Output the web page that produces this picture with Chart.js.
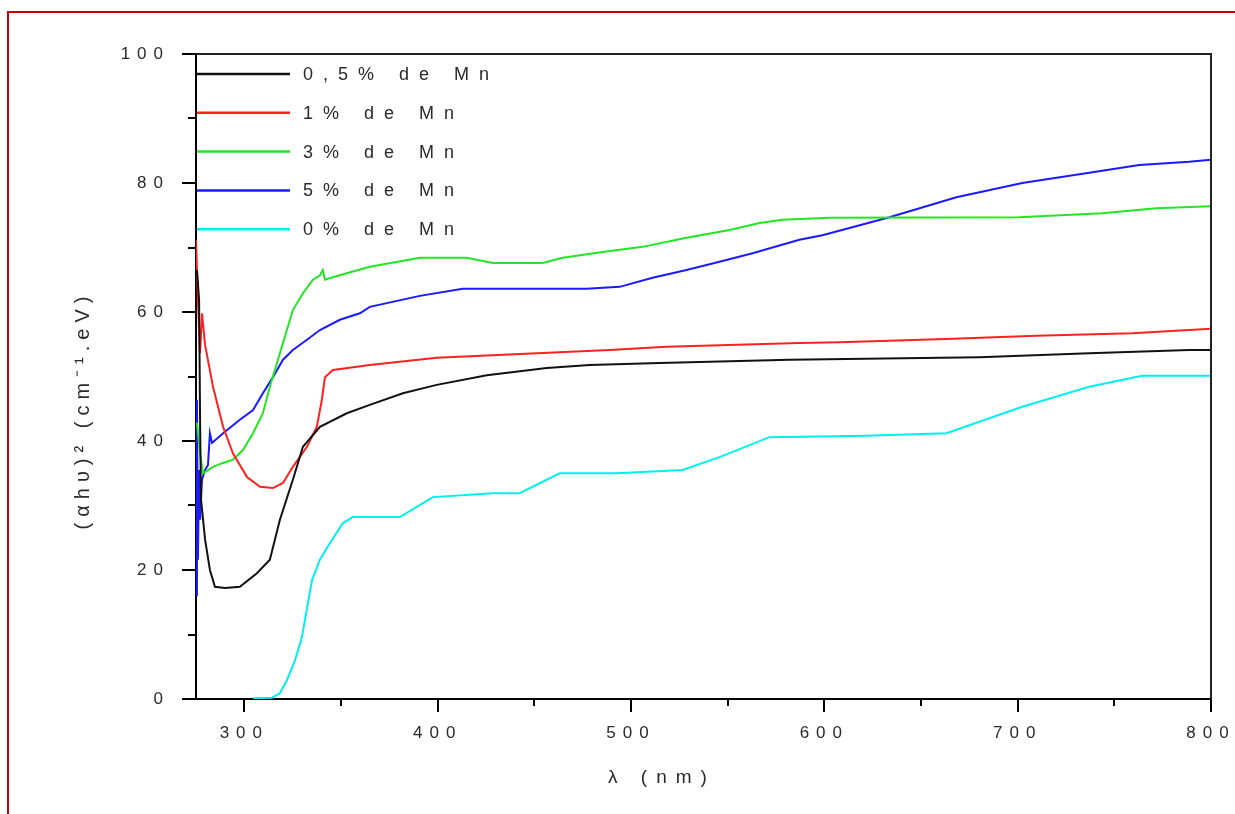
<!DOCTYPE html>
<html>
<head>
<meta charset="utf-8">
<script src="https://cdn.jsdelivr.net/npm/chart.js@4.4.1/dist/chart.umd.min.js"></script>
<style>
  html, body { margin: 0; padding: 0; background: #fff; }
  #wrap { width: 1235px; height: 814px; }
</style>
</head>
<body>
<div id="wrap"><canvas id="absChart" width="1235" height="814"></canvas></div>
<script>
// [wavelength nm, (alpha h nu)^2] pairs
const mn05 = [[275.5,66.5],[276.6,61.9],[277.1,43.3],[277.6,30.9],[279.7,24.7],[282.2,20.0],[284.8,17.4],[290,17.2],[297.7,17.4],[306.5,19.5],[313.2,21.6],[318.4,27.8],[325.1,34.0],[330.3,39.1],[339.1,42.2],[353,44.3],[364.9,45.6],[382,47.4],[399.5,48.7],[425.4,50.2],[456.4,51.3],[478.6,51.8],[514.8,52.1],[582,52.6],[680.2,53.0],[737,53.6],[788.7,54.1],[800,54.1]];
const mn1 = [[275,71.2],[276,61.9],[277.1,53.6],[278.1,59.8],[279.7,54.9],[283.8,48.4],[289,42.2],[294.1,38.1],[301.4,34.4],[308.1,32.9],[314.8,32.7],[320,33.5],[325.1,36.0],[332.4,39.1],[337.5,42.2],[340.1,46.4],[341.7,49.9],[345.8,51.0],[358.2,51.5],[364.9,51.8],[399.5,52.9],[451.2,53.6],[489,54.1],[518.4,54.6],[587.1,55.2],[607.8,55.3],[663.1,55.8],[709.6,56.3],[759.2,56.7],[800,57.4]];
const mn3 = [[275.5,42.8],[277.1,38.1],[278.6,35.0],[283.8,36.0],[289,36.6],[294.1,37.1],[299.3,38.6],[304.5,41.2],[309.6,44.3],[313.2,48.4],[318.4,53.6],[322,57.2],[325.1,60.3],[330.3,62.9],[335.5,65.0],[339.1,65.7],[340.6,66.5],[341.7,65.0],[345.8,65.4],[353,66.0],[364.9,67.0],[390.8,68.4],[415,68.4],[428.5,67.6],[454.3,67.6],[464.7,68.4],[485.3,69.3],[506,70.1],[528.7,71.5],[551,72.7],[566.5,73.8],[578.4,74.3],[602.6,74.6],[700.8,74.7],[743.7,75.3],[771.6,76.1],[800,76.4]];
const mn5 = [[275,16.1],[275.5,46.4],[276,21.6],[276.6,35.5],[277.1,27.8],[278.1,34.0],[279.7,35.5],[281.2,36.3],[282.2,41.2],[283.3,39.7],[289,41.2],[297.7,43.3],[304.5,44.8],[309.6,47.4],[314.8,49.9],[320,52.6],[325.1,54.1],[332.4,55.7],[339.1,57.2],[349.4,58.8],[359.8,59.8],[364.9,60.8],[390.8,62.5],[413,63.6],[477.1,63.6],[494.1,63.9],[511.2,65.3],[528.7,66.5],[545.8,67.8],[562.9,69.1],[587.1,71.2],[599,71.9],[633.7,74.7],[668.3,77.8],[702.4,80.0],[737,81.6],[762.9,82.8],[788.7,83.3],[800,83.6]];
const mn0 = [[304.5,0.1],[314.3,0.2],[318.4,0.9],[322,2.9],[326.2,6.0],[329.8,9.6],[332.9,14.9],[335,18.4],[339.1,21.6],[344.3,24.2],[351,27.3],[356.1,28.2],[380.4,28.2],[397.5,31.3],[428.5,31.9],[442.4,31.9],[463.1,35.0],[492.6,35.0],[526.7,35.5],[545.8,37.5],[571.6,40.6],[621.8,40.8],[663.1,41.2],[702.4,45.3],[737,48.4],[764.4,50.1],[800,50.1]];

const seriesLabels = ['0,5% de Mn', '1% de Mn', '3% de Mn', '5% de Mn', '0% de Mn'];
const seriesColors = ['#111111', '#ff2020', '#22e622', '#1a1aff', '#00f0f0'];
const xTickLabels = [300, 400, 500, 600, 700, 800];
const xMinorTicks = [350, 450, 550, 650, 750];
const yTickLabels = [0, 20, 40, 60, 80, 100];
const yMinorTicks = [10, 30, 50, 70, 90];
const xTitle = 'λ (nm)';
const yTitle = '(αhυ)² (cm⁻¹.eV)';

const FONT = '"Liberation Sans", Arial, sans-serif';
const TEXT = '#2a2a2a';

// frame, minor/major ticks, inside legend and axis titles
const decor = {
    id: 'decor',
    beforeDraw(chart) {
        const ctx = chart.ctx;
        ctx.letterSpacing = '7px';
        ctx.save();
        ctx.fillStyle = '#cc0000';
        ctx.fillRect(8, 11, 1235 - 8, 2);
        ctx.fillRect(7, 11, 2, 814 - 11);
        ctx.restore();
    },
    afterDraw(chart) {
        const { ctx, chartArea: a, scales: { x, y } } = chart;
        ctx.save();

        // top and right sides of the box
        ctx.strokeStyle = '#222';
        ctx.lineWidth = 2;
        ctx.beginPath();
        ctx.moveTo(a.left, a.top);
        ctx.lineTo(a.right, a.top);
        ctx.lineTo(a.right, a.bottom);
        ctx.stroke();

        // tick marks pointing out
        ctx.strokeStyle = '#000';
        ctx.beginPath();
        yTickLabels.concat(yMinorTicks).forEach(v => {
            const py = Math.round(y.getPixelForValue(v));
            const len = yTickLabels.includes(v) ? 14 : 8;
            ctx.moveTo(a.left - len, py);
            ctx.lineTo(a.left, py);
        });
        xTickLabels.concat(xMinorTicks).forEach(v => {
            const px = Math.round(x.getPixelForValue(v));
            const len = xTickLabels.includes(v) ? 13 : 7;
            ctx.moveTo(px, a.bottom);
            ctx.lineTo(px, a.bottom + len);
        });
        ctx.stroke();

        // legend
        ctx.font = '18px ' + FONT;
        ctx.letterSpacing = '10px';
        ctx.textAlign = 'left';
        ctx.textBaseline = 'middle';
        chart.data.datasets.forEach((ds, i) => {
            const ly = a.top + 20 + i * 38.8;
            ctx.strokeStyle = ds.borderColor;
            ctx.lineWidth = 2.5;
            ctx.beginPath();
            ctx.moveTo(a.left + 1, ly);
            ctx.lineTo(a.left + 94, ly);
            ctx.stroke();
            ctx.fillStyle = TEXT;
            ctx.fillText(ds.label, a.left + 107, ly + 1);
        });

        // axis titles
        ctx.font = '19px ' + FONT;
        ctx.fillStyle = TEXT;
        ctx.textAlign = 'center';
        ctx.letterSpacing = '9px';
        ctx.fillText(xTitle, 662, 778);
        ctx.font = '20px ' + FONT;
        ctx.letterSpacing = '6px';
        ctx.translate(83, 410);
        ctx.rotate(-Math.PI / 2);
        ctx.fillText(yTitle, 0, 0);
        ctx.restore();
    }
};

const toPoints = arr => arr.map(p => ({ x: p[0], y: p[1] }));
const allSeries = [mn05, mn1, mn3, mn5, mn0];

new Chart(document.getElementById('absChart'), {
    type: 'line',
    data: {
        datasets: allSeries.map((s, i) => ({
            label: seriesLabels[i],
            data: toPoints(s),
            borderColor: seriesColors[i],
            backgroundColor: seriesColors[i],
            borderWidth: 2,
            pointRadius: 0,
            tension: 0,
            fill: false
        }))
    },
    options: {
        responsive: false,
        animation: false,
        devicePixelRatio: 1,
        layout: { padding: { left: 0, right: 24, top: 54, bottom: 0 } },
        plugins: {
            legend: { display: false },
            tooltip: { enabled: false }
        },
        scales: {
            x: {
                type: 'linear',
                min: 275,
                max: 800,
                grid: { display: false, drawTicks: false },
                border: { display: true, color: '#000', width: 2 },
                ticks: { font: { size: 17, family: FONT }, color: TEXT, padding: 24, maxRotation: 0 },
                afterBuildTicks: s => { s.ticks = xTickLabels.map(v => ({ value: v })); },
                afterFit: s => { s.height = 115; s.paddingLeft = 0; s.paddingRight = 0; }
            },
            y: {
                min: 0,
                max: 100,
                grid: { display: false, drawTicks: false },
                border: { display: true, color: '#000', width: 2 },
                ticks: { font: { size: 17, family: FONT }, color: TEXT, padding: 26 },
                afterBuildTicks: s => { s.ticks = yTickLabels.map(v => ({ value: v })); },
                afterFit: s => { s.width = 196; s.paddingTop = 0; s.paddingBottom = 0; }
            }
        }
    },
    plugins: [decor]
});
</script>
</body>
</html>
